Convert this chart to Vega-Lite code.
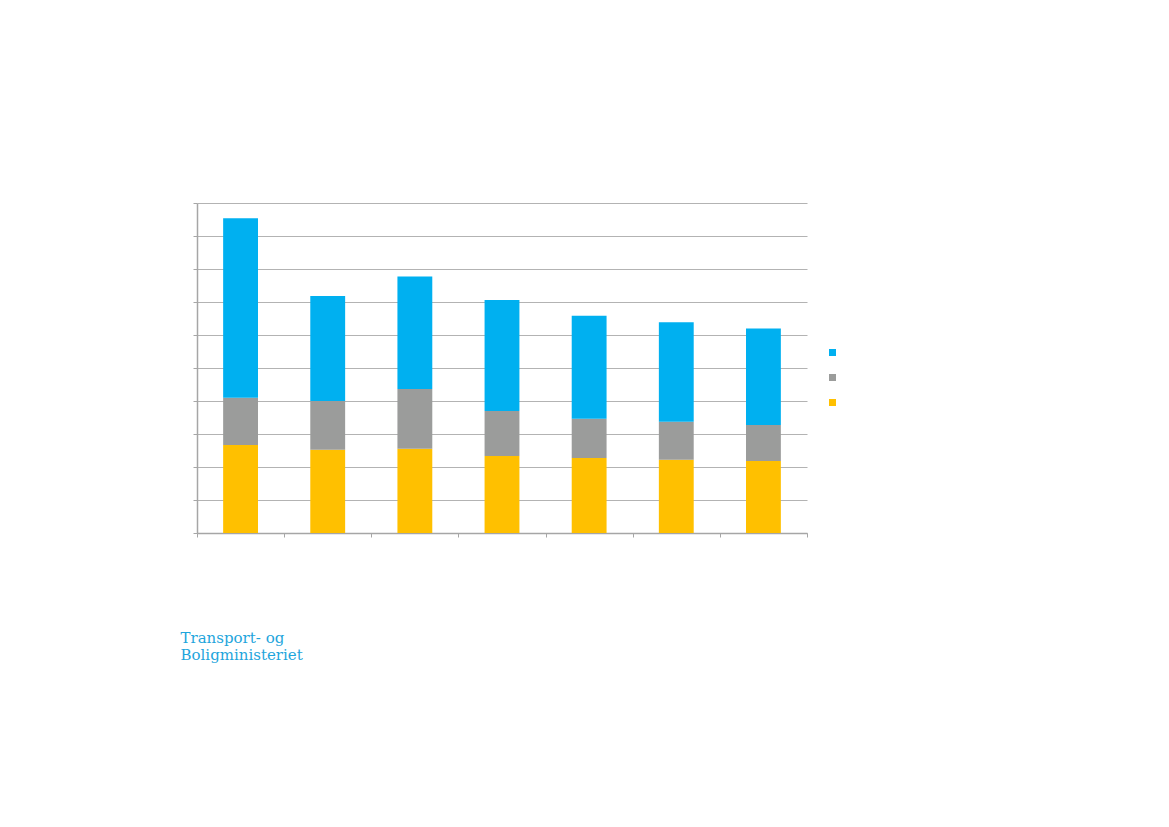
{
  "$schema": "https://vega.github.io/schema/vega-lite/v6.json",
  "autosize": "none",
  "width": 610,
  "height": 330,
  "padding": {"left": 197, "top": 203, "right": 362, "bottom": 294},
  "background": "#ffffff",
  "title": {
    "text": ["Transport- og", "Boligministeriet"],
    "orient": "bottom",
    "anchor": "start",
    "align": "left",
    "font": "DejaVu Serif",
    "fontSize": 15,
    "fontWeight": "normal",
    "color": "#1ea5dc",
    "lineHeight": 17,
    "offset": 93,
    "dx": -12
  },
  "data": {
    "values": [
      {"kategori": "K1", "serie": "Serie 1", "orden": 1, "vaerdi": 26.7},
      {"kategori": "K1", "serie": "Serie 2", "orden": 2, "vaerdi": 14.3},
      {"kategori": "K1", "serie": "Serie 3", "orden": 3, "vaerdi": 54.4},
      {"kategori": "K2", "serie": "Serie 1", "orden": 1, "vaerdi": 25.2},
      {"kategori": "K2", "serie": "Serie 2", "orden": 2, "vaerdi": 14.8},
      {"kategori": "K2", "serie": "Serie 3", "orden": 3, "vaerdi": 31.8},
      {"kategori": "K3", "serie": "Serie 1", "orden": 1, "vaerdi": 25.5},
      {"kategori": "K3", "serie": "Serie 2", "orden": 2, "vaerdi": 18.1},
      {"kategori": "K3", "serie": "Serie 3", "orden": 3, "vaerdi": 34.1},
      {"kategori": "K4", "serie": "Serie 1", "orden": 1, "vaerdi": 23.3},
      {"kategori": "K4", "serie": "Serie 2", "orden": 2, "vaerdi": 13.7},
      {"kategori": "K4", "serie": "Serie 3", "orden": 3, "vaerdi": 33.6},
      {"kategori": "K5", "serie": "Serie 1", "orden": 1, "vaerdi": 22.7},
      {"kategori": "K5", "serie": "Serie 2", "orden": 2, "vaerdi": 11.9},
      {"kategori": "K5", "serie": "Serie 3", "orden": 3, "vaerdi": 31.2},
      {"kategori": "K6", "serie": "Serie 1", "orden": 1, "vaerdi": 22.2},
      {"kategori": "K6", "serie": "Serie 2", "orden": 2, "vaerdi": 11.5},
      {"kategori": "K6", "serie": "Serie 3", "orden": 3, "vaerdi": 30.2},
      {"kategori": "K7", "serie": "Serie 1", "orden": 1, "vaerdi": 21.8},
      {"kategori": "K7", "serie": "Serie 2", "orden": 2, "vaerdi": 10.9},
      {"kategori": "K7", "serie": "Serie 3", "orden": 3, "vaerdi": 29.3}
    ]
  },
  "mark": {"type": "bar", "width": {"band": 0.4}},
  "encoding": {
    "x": {
      "field": "kategori",
      "type": "nominal",
      "sort": null,
      "scale": {"paddingInner": 0, "paddingOuter": 0},
      "axis": {
        "title": null,
        "labels": false,
        "tickBand": "extent",
        "domainColor": "#a6a6a6",
        "domainWidth": 1.5,
        "tickColor": "#a6a6a6",
        "tickSize": 4,
        "tickWidth": 1,
        "grid": false
      }
    },
    "y": {
      "field": "vaerdi",
      "type": "quantitative",
      "stack": "zero",
      "scale": {"domain": [0, 100], "nice": false},
      "axis": {
        "title": null,
        "labels": false,
        "values": [0, 10, 20, 30, 40, 50, 60, 70, 80, 90, 100],
        "grid": true,
        "gridColor": "#b3b3b3",
        "gridWidth": 1,
        "domainColor": "#a6a6a6",
        "domainWidth": 1.5,
        "tickColor": "#a6a6a6",
        "tickSize": 4
      }
    },
    "color": {
      "field": "serie",
      "type": "nominal",
      "scale": {
        "domain": ["Serie 3", "Serie 2", "Serie 1"],
        "range": ["#00b0f0", "#9b9c9b", "#ffc000"]
      },
      "legend": {
        "title": null,
        "orient": "none",
        "legendX": 632,
        "legendY": 146,
        "symbolType": "square",
        "symbolSize": 49,
        "symbolStrokeWidth": 0,
        "labelExpr": "''",
        "labelFontSize": 7,
        "rowPadding": 17
      }
    },
    "order": {"field": "orden", "type": "quantitative"}
  },
  "config": {
    "view": {"stroke": null}
  }
}
